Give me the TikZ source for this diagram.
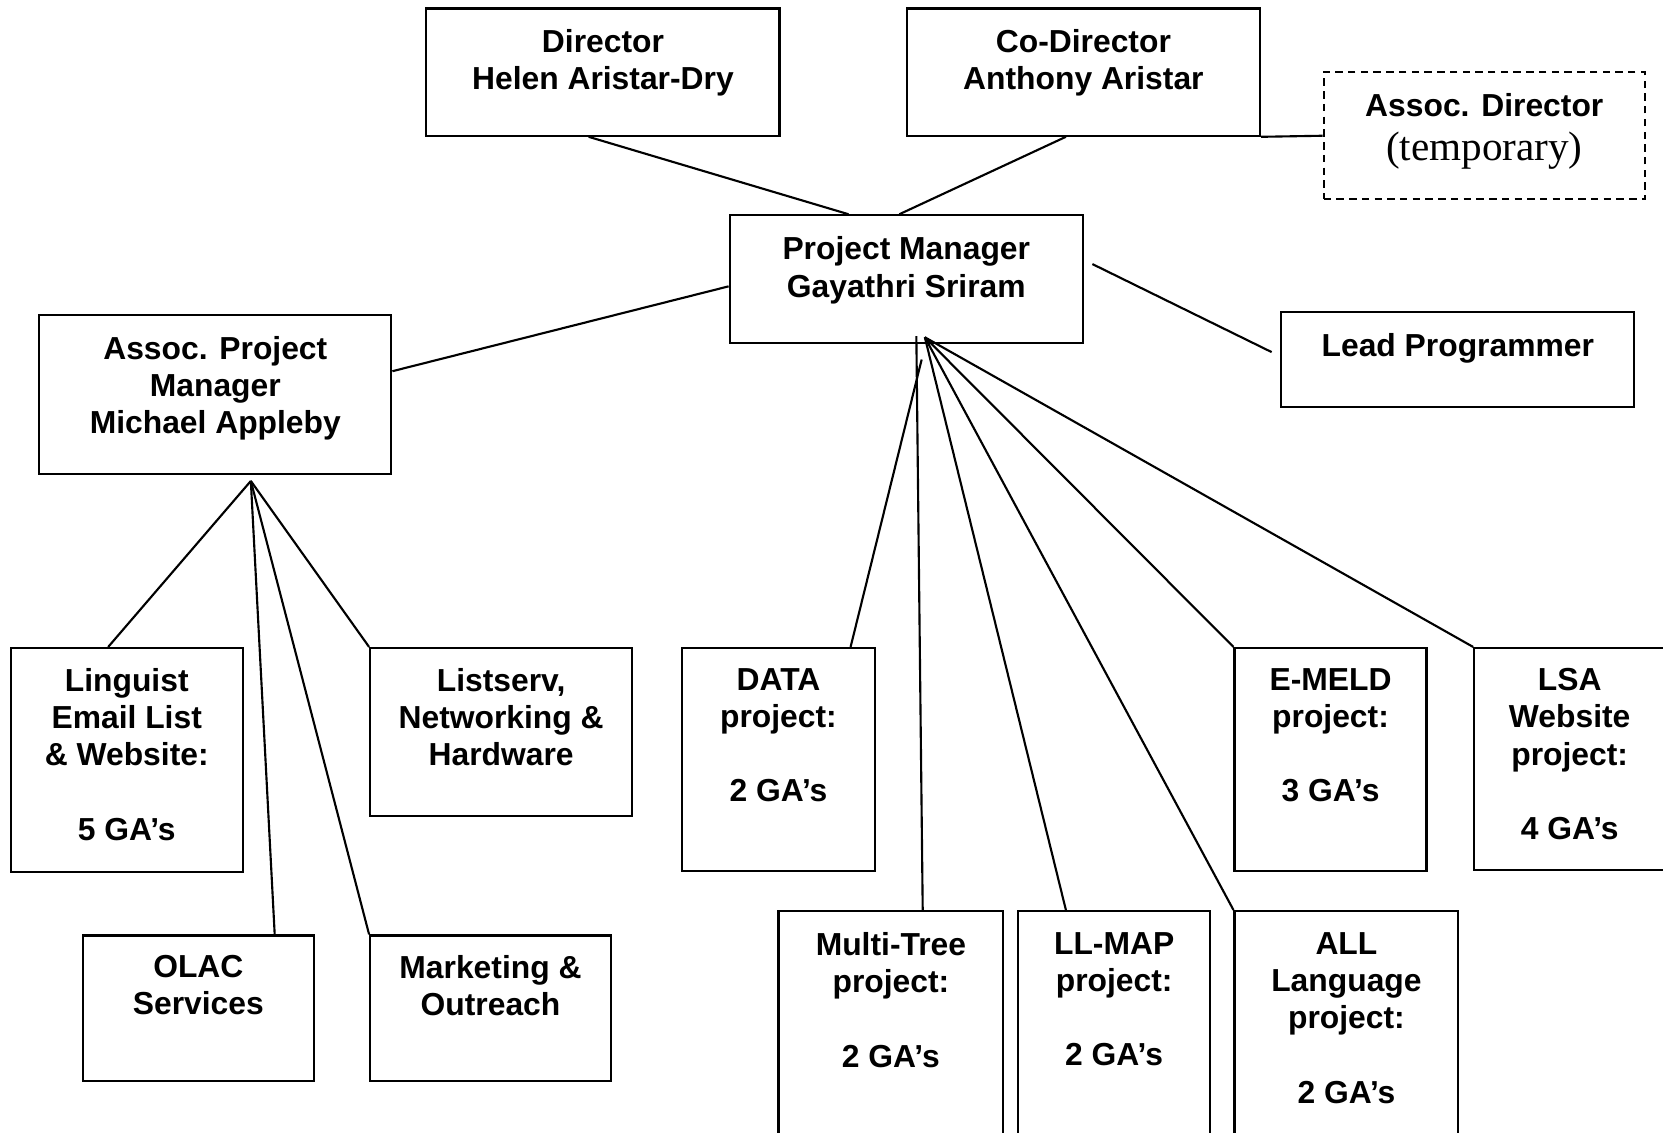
\documentclass[tikz,border=0pt]{standalone}
\usepackage{fontspec}
\setmainfont{Liberation Sans}
\newfontfamily\serifface{Liberation Serif}
\usetikzlibrary{calc}
\begin{document}
\begin{tikzpicture}[x=0.5pt,y=-0.5pt,
  box/.style={draw,line width=1pt,rectangle,inner sep=0pt},
  lbl/.style={anchor=north,align=center,inner sep=0pt,font=\fontsize{15}{17.5}\selectfont\bfseries},
  link/.style={line width=1pt}]
\useasboundingbox (0,0) rectangle (1568,1068);
\clip (0,0) rectangle (1568,1068);
% boxes: (x1,y1)-(x2,y2)
\newcommand{\orgbox}[6]{%
  \node[box,#6,minimum width={(#4-#2)*0.5pt},minimum height={(#5-#3)*0.5pt}] (#1) at ({(#2+#4)/2},{(#3+#5)/2}) {};}
\orgbox{dir}{402}{8}{735}{128}{}
\orgbox{codir}{855}{8}{1188}{128}{}
\orgbox{adir}{1248}{68}{1551}{188}{dashed,dash pattern=on 3.5pt off 2.5pt}
\orgbox{pm}{688}{203}{1021}{323}{}
\orgbox{lead}{1208}{294}{1541}{384}{}
\orgbox{apm}{37}{297}{369}{447}{}
\orgbox{ling}{10}{611}{229}{822}{}
\orgbox{list}{349}{611}{596}{769}{}
\orgbox{olac}{78}{882}{296}{1019}{}
\orgbox{mkt}{349}{882}{576}{1019}{}
\orgbox{data}{643}{611}{825}{821}{}
\orgbox{emeld}{1164}{611}{1345}{821}{}
\orgbox{lsa}{1390}{611}{1580}{820}{}
\orgbox{mt}{734}{859}{946}{1090}{}
\orgbox{ll}{960}{859}{1141}{1090}{}
\orgbox{all}{1164}{859}{1375}{1090}{}
% texts
\node[lbl] (dirT) at (568.5,27) {Director\\Helen Aristar-Dry};
\node[lbl] (codirT) at (1021.5,27) {Co-Director\\Anthony Aristar};
\node[lbl] (adirT) at (1399.5,88) {Assoc. Director};
\node[anchor=center,inner sep=0pt,font=\serifface\fontsize{19.4}{22}\selectfont] (adirT2) at (1399.5,142) {(temporary)};
\node[lbl] (pmT) at (854.5,223) {Project Manager\\Gayathri Sriram};
\node[lbl] (leadT) at (1374.5,314) {Lead Programmer};
\node[lbl] (apmT) at (203,317) {Assoc. Project\\Manager\\Michael Appleby};
\node[lbl] (lingT) at (119.5,630) {Linguist\\Email List\\\& Website:\\[17.5pt]5 GA’s};
\node[lbl] (listT) at (472.5,630) {Listserv,\\Networking \&\\Hardware};
\node[lbl] (olacT) at (187,900) {OLAC\\Services};
\node[lbl] (mktT) at (462.5,900) {Marketing \&\\Outreach};
\node[lbl] (dataT) at (734,630) {DATA\\project:\\[17.5pt]2 GA’s};
\node[lbl] (emeldT) at (1254.5,630) {E-MELD\\project:\\[17.5pt]3 GA’s};
\node[lbl] (lsaT) at (1480,630) {LSA\\Website\\project:\\[17.5pt]4 GA’s};
\node[lbl] (mtT) at (840,879) {Multi-Tree\\project:\\[17.5pt]2 GA’s};
\node[lbl] (llT) at (1050.5,879) {LL-MAP\\project:\\[17.5pt]2 GA’s};
\node[lbl] (allT) at (1269.5,879) {ALL\\Language\\project:\\[17.5pt]2 GA’s};
% fan points
\coordinate (pmfan) at ($(pm.south)+(17.5,-6)$);
\coordinate (apmfan) at ($(apm.south)+(33.5,5.5)$);
% connectors
\draw[link] ($(dir.south)+(-13.5,0)$) -- ($(pm.north)+(-54.5,0)$);
\draw[link] ($(codir.south)+(-16.5,0)$) -- ($(pm.north)+(-6.5,0)$);
\draw[link] (codir.south east) -- (adir.west);
\draw[link] ($(pm.west)+(0,7)$) -- ($(apm.east)+(0,-22)$);
\draw[link] ($(pm.east)+(8,-14)$) -- ($(lead.west)+(-8,-7)$);
\draw[link] ($(pm.south)+(14.5,15)$) -- ($(data.north)+(68,0)$);
\draw[link] ($(pm.south)+(9.5,-7)$) -- ($(mt.north)+(30,0)$);
\draw[link] (pmfan) -- ($(ll.north)+(-45.5,0)$);
\draw[link] (pmfan) -- (all.north west);
\draw[link] (pmfan) -- (emeld.north west);
\draw[link] (pmfan) -- (lsa.north west);
\draw[link] (apmfan) -- ($(ling.north)+(-17.5,0)$);
\draw[link] (apmfan) -- ($(olac.north)+(72,0)$);
\draw[link] (apmfan) -- (mkt.north west);
\draw[link] (apmfan) -- (list.north west);
\end{tikzpicture}
\end{document}
